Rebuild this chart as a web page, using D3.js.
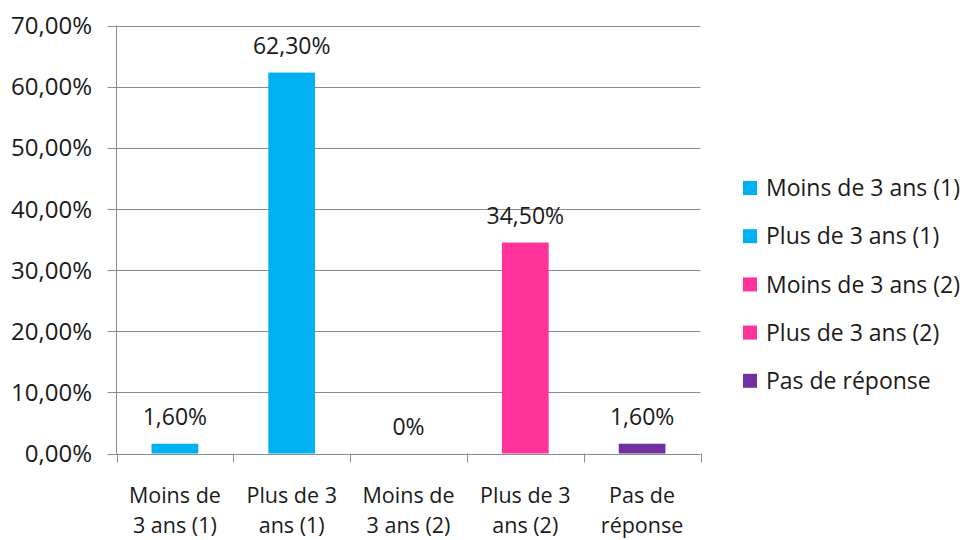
<!DOCTYPE html>
<html>
<head>
<meta charset="utf-8">
<script src="https://cdn.jsdelivr.net/npm/d3@7"></script>
<style>
  body { margin: 0; background: #fff; }
  text { font-family: "Open Sans", sans-serif; fill: #1a1a1a; }
</style>
</head>
<body>
<div id="viz"></div>
<script>
const categories = ["Moins de 3 ans (1)", "Plus de 3 ans (1)", "Moins de 3 ans (2)", "Plus de 3 ans (2)", "Pas de réponse"];
const catLines = [["Moins de", "3 ans (1)"], ["Plus de 3", "ans (1)"], ["Moins de", "3 ans (2)"], ["Plus de 3", "ans (2)"], ["Pas de", "réponse"]];
const values = [1.6, 62.3, 0, 34.5, 1.6];
const valueLabels = ["1,60%", "62,30%", "0%", "34,50%", "1,60%"];
const colors = ["#00B0F0", "#00B0F0", "#FF3399", "#FF3399", "#7030A0"];
const yTicks = [0, 10, 20, 30, 40, 50, 60, 70];

document.addEventListener("DOMContentLoaded", () => {
    const width = 965, height = 540;
    const m = { left: 116.5, right: 700.5, top: 25.5, bottom: 453.5 };

    const svg = d3.select("#viz").append("svg")
        .attr("width", width)
        .attr("height", height);

    const x = d3.scaleBand()
        .domain(categories)
        .range([m.left, m.right])
        .paddingInner(0.6)
        .paddingOuter(0.3);

    const y = d3.scaleLinear()
        .domain([0, 70])
        .range([m.bottom, m.top]);

    // gridlines + y labels
    svg.append("g").selectAll("line")
        .data(yTicks)
        .enter()
        .append("line")
        .attr("x1", m.left - 9)
        .attr("x2", m.right)
        .attr("y1", d => Math.round(y(d)) + 0.5)
        .attr("y2", d => Math.round(y(d)) + 0.5)
        .attr("stroke", "#8c8c8c")
        .attr("stroke-width", 1);

    svg.append("g").selectAll("text")
        .data(yTicks)
        .enter()
        .append("text")
        .attr("x", 92)
        .attr("y", d => y(d))
        .attr("dy", "0.36em")
        .attr("text-anchor", "end")
        .style("font-size", "24px")
        .text(d => d.toFixed(2).replace(".", ",") + "%");

    // y axis line
    svg.append("line")
        .attr("x1", m.left).attr("x2", m.left)
        .attr("y1", m.top).attr("y2", m.bottom)
        .attr("stroke", "#8c8c8c");

    // x category tick marks
    const edges = d3.range(categories.length + 1).map(i => m.left + i * (m.right - m.left) / categories.length);
    svg.append("g").selectAll("line")
        .data(edges)
        .enter()
        .append("line")
        .attr("x1", d => Math.round(d) + 0.5)
        .attr("x2", d => Math.round(d) + 0.5)
        .attr("y1", m.bottom)
        .attr("y2", m.bottom + 9)
        .attr("stroke", "#8c8c8c");

    // bars
    svg.append("g").selectAll("rect")
        .data(values)
        .enter()
        .append("rect")
        .attr("x", (d, i) => x(categories[i]))
        .attr("width", x.bandwidth())
        .attr("y", d => y(d))
        .attr("height", d => y(0) - y(d))
        .attr("fill", (d, i) => colors[i]);

    // value labels
    svg.append("g").selectAll("text")
        .data(values)
        .enter()
        .append("text")
        .attr("x", (d, i) => x(categories[i]) + x.bandwidth() / 2)
        .attr("y", d => y(d) - 19)
        .attr("text-anchor", "middle")
        .style("font-size", "23px")
        .text((d, i) => valueLabels[i]);

    // category labels, one text per line
    catLines.forEach((lines, i) => {
        const cx = x(categories[i]) + x.bandwidth() / 2;
        svg.append("g").selectAll("text")
            .data(lines)
            .enter()
            .append("text")
            .attr("x", cx)
            .attr("y", (t, j) => 503 + j * 29.5)
            .attr("text-anchor", "middle")
            .style("font-size", "21.5px")
            .text(t => t);
    });

    // legend
    const leg = svg.append("g").selectAll("g")
        .data(categories)
        .enter()
        .append("g")
        .attr("transform", (d, i) => `translate(743, ${188 + i * 48.2})`);
    leg.append("rect")
        .attr("x", 0).attr("y", -7)
        .attr("width", 14).attr("height", 14)
        .attr("fill", (d, i) => colors[i]);
    leg.append("text")
        .attr("x", 23)
        .attr("dy", "0.36em")
        .style("font-size", "23px")
        .text(d => d);
});
</script>
</body>
</html>
